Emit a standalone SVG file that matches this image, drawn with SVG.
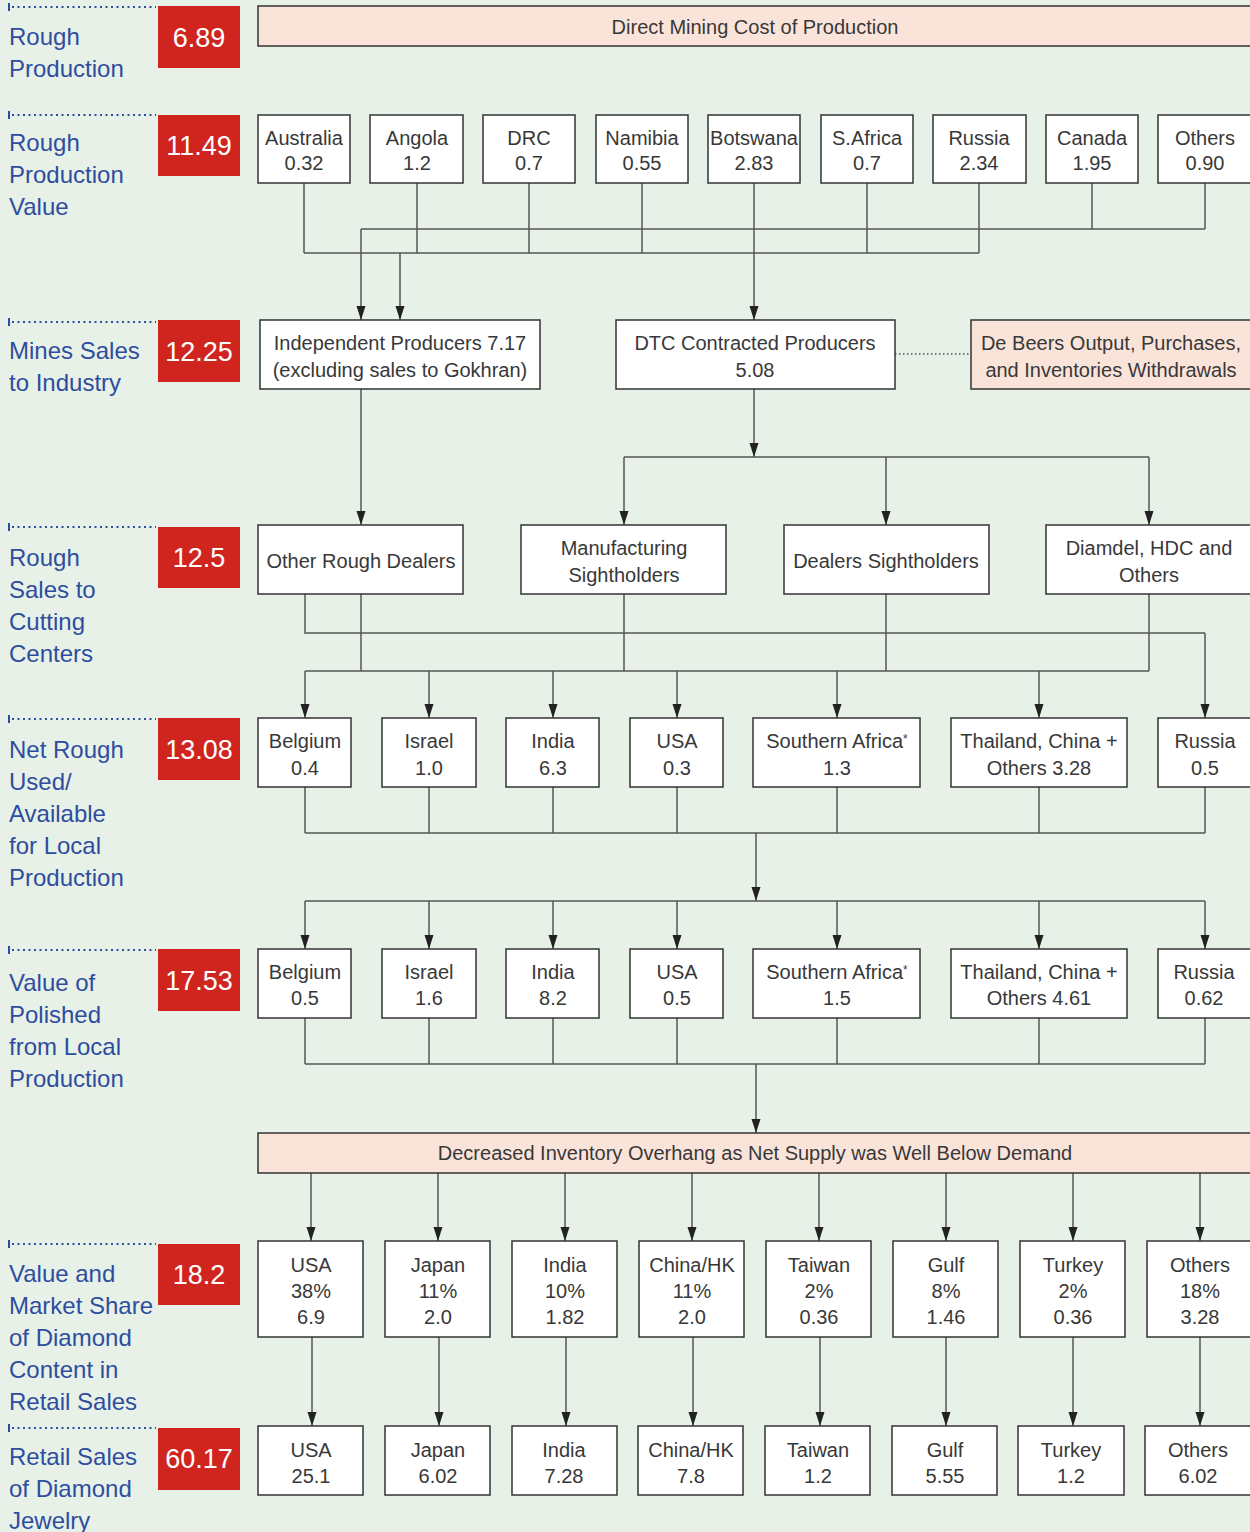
<svg xmlns="http://www.w3.org/2000/svg" width="1250" height="1532" viewBox="0 0 1250 1532">
<defs>
<marker id="ah" markerUnits="userSpaceOnUse" markerWidth="16" markerHeight="12" refX="14" refY="4.5" orient="auto">
<path d="M0,0 L14,4.5 L0,9 z" fill="#222"/>
</marker>
<style>
.lbl{font-family:"Liberation Sans",Arial,sans-serif;font-size:24px;fill:#2f4d9e}
.num{font-family:"Liberation Sans",Arial,sans-serif;font-size:27px;fill:#fff;text-anchor:middle}
.red{fill:#d0251f}
.dot{stroke:#2f4d9e;stroke-width:2;stroke-dasharray:2 3.5;fill:none}
.tick{stroke:#2f4d9e;stroke-width:2}
.box{fill:#fff;stroke:#333;stroke-width:1.5}
.pink{fill:#fae4da;stroke:#333;stroke-width:1.5}
.t{font-family:"Liberation Sans",Arial,sans-serif;font-size:20px;fill:#383838;text-anchor:middle}
.c{stroke:#555;stroke-width:1.5;fill:none}
.a{stroke:#555;stroke-width:1.5;fill:none;marker-end:url(#ah)}
.sm{font-size:12px}
</style>
</defs>
<rect width="1250" height="1532" fill="#e7f1e8"/>

<!-- left labels -->
<g id="row-labels">
<g id="lbl1"><line class="tick" x1="9" y1="3" x2="9" y2="11"/><line class="dot" x1="12" y1="7" x2="156" y2="7"/><rect class="red" x="158" y="6" width="82" height="62"/><text class="num" x="199" y="47">6.89</text><text class="lbl" x="9" y="45">Rough</text><text class="lbl" x="9" y="77">Production</text></g>
<g id="lbl2"><line class="tick" x1="9" y1="111" x2="9" y2="119"/><line class="dot" x1="12" y1="115" x2="156" y2="115"/><rect class="red" x="158" y="115" width="82" height="61"/><text class="num" x="199" y="155">11.49</text><text class="lbl" x="9" y="151">Rough</text><text class="lbl" x="9" y="183">Production</text><text class="lbl" x="9" y="215">Value</text></g>
<g id="lbl3"><line class="tick" x1="9" y1="318" x2="9" y2="326"/><line class="dot" x1="12" y1="322" x2="156" y2="322"/><rect class="red" x="158" y="320" width="82" height="62"/><text class="num" x="199" y="361">12.25</text><text class="lbl" x="9" y="359">Mines Sales</text><text class="lbl" x="9" y="391">to Industry</text></g>
<g id="lbl4"><line class="tick" x1="9" y1="523" x2="9" y2="531"/><line class="dot" x1="12" y1="527" x2="156" y2="527"/><rect class="red" x="158" y="527" width="82" height="61"/><text class="num" x="199" y="567">12.5</text><text class="lbl" x="9" y="566">Rough</text><text class="lbl" x="9" y="598">Sales to</text><text class="lbl" x="9" y="630">Cutting</text><text class="lbl" x="9" y="662">Centers</text></g>
<g id="lbl5"><line class="tick" x1="9" y1="715" x2="9" y2="723"/><line class="dot" x1="12" y1="719" x2="156" y2="719"/><rect class="red" x="158" y="718" width="82" height="62"/><text class="num" x="199" y="759">13.08</text><text class="lbl" x="9" y="758">Net Rough</text><text class="lbl" x="9" y="790">Used/</text><text class="lbl" x="9" y="822">Available</text><text class="lbl" x="9" y="854">for Local</text><text class="lbl" x="9" y="886">Production</text></g>
<g id="lbl6"><line class="tick" x1="9" y1="946" x2="9" y2="954"/><line class="dot" x1="12" y1="950" x2="156" y2="950"/><rect class="red" x="158" y="949" width="82" height="62"/><text class="num" x="199" y="990">17.53</text><text class="lbl" x="9" y="991">Value of</text><text class="lbl" x="9" y="1023">Polished</text><text class="lbl" x="9" y="1055">from Local</text><text class="lbl" x="9" y="1087">Production</text></g>
<g id="lbl7"><line class="tick" x1="9" y1="1240" x2="9" y2="1248"/><line class="dot" x1="12" y1="1244" x2="156" y2="1244"/><rect class="red" x="158" y="1244" width="82" height="61"/><text class="num" x="199" y="1284">18.2</text><text class="lbl" x="9" y="1282">Value and</text><text class="lbl" x="9" y="1314">Market Share</text><text class="lbl" x="9" y="1346">of Diamond</text><text class="lbl" x="9" y="1378">Content in</text><text class="lbl" x="9" y="1410">Retail Sales</text></g>
<g id="lbl8"><line class="tick" x1="9" y1="1424" x2="9" y2="1432"/><line class="dot" x1="12" y1="1428" x2="156" y2="1428"/><rect class="red" x="158" y="1428" width="82" height="62"/><text class="num" x="199" y="1468">60.17</text><text class="lbl" x="9" y="1465">Retail Sales</text><text class="lbl" x="9" y="1497">of Diamond</text><text class="lbl" x="9" y="1529">Jewelry</text></g>
</g>

<!-- connectors -->
<g id="connectors">
<path class="c" d="M304,183 V253 M417,183 V253 M529,183 V253 M642,183 V253 M867,183 V253 M979,183 V253 M304,253 H979"/>
<path class="c" d="M1092,183 V229 M1205,183 V229 M361,229 H1205"/>
<path class="a" d="M361,229 V320"/>
<path class="a" d="M400,253 V320"/>
<path class="a" d="M754,183 V320"/>
<line x1="895" y1="354" x2="971" y2="354" stroke="#555" stroke-width="1.3" stroke-dasharray="1.5 2.5"/>
<path class="a" d="M361,389 V525"/>
<path class="a" d="M754,389 V457"/>
<path class="c" d="M624,457 H1149"/>
<path class="a" d="M624,457 V525"/>
<path class="a" d="M886,457 V525"/>
<path class="a" d="M1149,457 V525"/>
<path class="c" d="M305,594 V633 H1205"/>
<path class="a" d="M1205,633 V718"/>
<path class="c" d="M361,594 V671 M624,594 V671 M886,594 V671 M1149,594 V671 M305,671 H1149"/>
<path class="a" d="M305,671 V718"/>
<path class="a" d="M429,671 V718"/>
<path class="a" d="M553,671 V718"/>
<path class="a" d="M677,671 V718"/>
<path class="a" d="M837,671 V718"/>
<path class="a" d="M1039,671 V718"/>
<path class="c" d="M305,787 V833 M429,787 V833 M553,787 V833 M677,787 V833 M837,787 V833 M1039,787 V833 M1205,787 V833 M305,833 H1205"/>
<path class="a" d="M756,833 V901"/>
<path class="c" d="M305,901 H1205"/>
<path class="a" d="M305,901 V949"/>
<path class="a" d="M429,901 V949"/>
<path class="a" d="M553,901 V949"/>
<path class="a" d="M677,901 V949"/>
<path class="a" d="M837,901 V949"/>
<path class="a" d="M1039,901 V949"/>
<path class="a" d="M1205,901 V949"/>
<path class="c" d="M305,1018 V1064 M429,1018 V1064 M553,1018 V1064 M677,1018 V1064 M837,1018 V1064 M1039,1018 V1064 M1205,1018 V1064 M305,1064 H1205"/>
<path class="a" d="M756,1064 V1133"/>
<path class="a" d="M311,1173 V1241"/>
<path class="a" d="M438,1173 V1241"/>
<path class="a" d="M565,1173 V1241"/>
<path class="a" d="M692,1173 V1241"/>
<path class="a" d="M819,1173 V1241"/>
<path class="a" d="M946,1173 V1241"/>
<path class="a" d="M1073,1173 V1241"/>
<path class="a" d="M1200,1173 V1241"/>
<path class="a" d="M312,1337 V1426"/>
<path class="a" d="M439,1337 V1426"/>
<path class="a" d="M566,1337 V1426"/>
<path class="a" d="M693,1337 V1426"/>
<path class="a" d="M820,1337 V1426"/>
<path class="a" d="M946,1337 V1426"/>
<path class="a" d="M1073,1337 V1426"/>
<path class="a" d="M1200,1337 V1426"/>
</g>

<g id="n-direct"><rect class="pink" x="258" y="6" width="1000" height="40"/><text class="t" x="755" y="34">Direct Mining Cost of Production</text></g>

<g id="n-australia"><rect class="box" x="258" y="115" width="92" height="68"/><text class="t" x="304" y="145">Australia</text><text class="t" x="304" y="170">0.32</text></g>
<g id="n-angola"><rect class="box" x="370" y="115" width="93" height="68"/><text class="t" x="417" y="145">Angola</text><text class="t" x="417" y="170">1.2</text></g>
<g id="n-drc"><rect class="box" x="483" y="115" width="92" height="68"/><text class="t" x="529" y="145">DRC</text><text class="t" x="529" y="170">0.7</text></g>
<g id="n-namibia"><rect class="box" x="596" y="115" width="92" height="68"/><text class="t" x="642" y="145">Namibia</text><text class="t" x="642" y="170">0.55</text></g>
<g id="n-botswana"><rect class="box" x="708" y="115" width="92" height="68"/><text class="t" x="754" y="145">Botswana</text><text class="t" x="754" y="170">2.83</text></g>
<g id="n-safrica"><rect class="box" x="821" y="115" width="92" height="68"/><text class="t" x="867" y="145">S.Africa</text><text class="t" x="867" y="170">0.7</text></g>
<g id="n-russia1"><rect class="box" x="933" y="115" width="93" height="68"/><text class="t" x="979" y="145">Russia</text><text class="t" x="979" y="170">2.34</text></g>
<g id="n-canada"><rect class="box" x="1046" y="115" width="92" height="68"/><text class="t" x="1092" y="145">Canada</text><text class="t" x="1092" y="170">1.95</text></g>
<g id="n-others1"><rect class="box" x="1158" y="115" width="100" height="68"/><text class="t" x="1205" y="145">Others</text><text class="t" x="1205" y="170">0.90</text></g>

<g id="n-independent"><rect class="box" x="260" y="320" width="280" height="69"/><text class="t" x="400" y="350">Independent Producers 7.17</text><text class="t" x="400" y="377">(excluding sales to Gokhran)</text></g>
<g id="n-dtc"><rect class="box" x="616" y="320" width="279" height="69"/><text class="t" x="755" y="350">DTC Contracted Producers</text><text class="t" x="755" y="377">5.08</text></g>
<g id="n-debeers"><rect class="pink" x="971" y="320" width="290" height="69"/><text class="t" x="1111" y="350">De Beers Output, Purchases,</text><text class="t" x="1111" y="377">and Inventories Withdrawals</text></g>

<g id="n-otherrough"><rect class="box" x="258" y="525" width="205" height="69"/><text class="t" x="361" y="568">Other Rough Dealers</text></g>
<g id="n-mansight"><rect class="box" x="521" y="525" width="205" height="69"/><text class="t" x="624" y="555">Manufacturing</text><text class="t" x="624" y="582">Sightholders</text></g>
<g id="n-dealsight"><rect class="box" x="784" y="525" width="205" height="69"/><text class="t" x="886" y="568">Dealers Sightholders</text></g>
<g id="n-diamdel"><rect class="box" x="1046" y="525" width="214" height="69"/><text class="t" x="1149" y="555">Diamdel, HDC and</text><text class="t" x="1149" y="582">Others</text></g>

<g id="n-belgium5"><rect class="box" x="258" y="718" width="93" height="69"/><text class="t" x="305" y="748">Belgium</text><text class="t" x="305" y="775">0.4</text></g>
<g id="n-israel5"><rect class="box" x="382" y="718" width="94" height="69"/><text class="t" x="429" y="748">Israel</text><text class="t" x="429" y="775">1.0</text></g>
<g id="n-india5"><rect class="box" x="506" y="718" width="93" height="69"/><text class="t" x="553" y="748">India</text><text class="t" x="553" y="775">6.3</text></g>
<g id="n-usa5"><rect class="box" x="630" y="718" width="93" height="69"/><text class="t" x="677" y="748">USA</text><text class="t" x="677" y="775">0.3</text></g>
<g id="n-safr5"><rect class="box" x="753" y="718" width="167" height="69"/><text class="t" x="837" y="748">Southern Africa<tspan class="sm" dy="-5">*</tspan></text><text class="t" x="837" y="775">1.3</text></g>
<g id="n-thai5"><rect class="box" x="951" y="718" width="176" height="69"/><text class="t" x="1039" y="748">Thailand, China +</text><text class="t" x="1039" y="775">Others 3.28</text></g>
<g id="n-russia5"><rect class="box" x="1158" y="718" width="100" height="69"/><text class="t" x="1205" y="748">Russia</text><text class="t" x="1205" y="775">0.5</text></g>

<g id="n-belgium6"><rect class="box" x="258" y="949" width="93" height="69"/><text class="t" x="305" y="979">Belgium</text><text class="t" x="305" y="1005">0.5</text></g>
<g id="n-israel6"><rect class="box" x="382" y="949" width="94" height="69"/><text class="t" x="429" y="979">Israel</text><text class="t" x="429" y="1005">1.6</text></g>
<g id="n-india6"><rect class="box" x="506" y="949" width="93" height="69"/><text class="t" x="553" y="979">India</text><text class="t" x="553" y="1005">8.2</text></g>
<g id="n-usa6"><rect class="box" x="630" y="949" width="93" height="69"/><text class="t" x="677" y="979">USA</text><text class="t" x="677" y="1005">0.5</text></g>
<g id="n-safr6"><rect class="box" x="753" y="949" width="167" height="69"/><text class="t" x="837" y="979">Southern Africa<tspan class="sm" dy="-5">*</tspan></text><text class="t" x="837" y="1005">1.5</text></g>
<g id="n-thai6"><rect class="box" x="951" y="949" width="176" height="69"/><text class="t" x="1039" y="979">Thailand, China +</text><text class="t" x="1039" y="1005">Others 4.61</text></g>
<g id="n-russia6"><rect class="box" x="1158" y="949" width="100" height="69"/><text class="t" x="1204" y="979">Russia</text><text class="t" x="1204" y="1005">0.62</text></g>

<g id="n-inventory"><rect class="pink" x="258" y="1133" width="1000" height="40"/><text class="t" x="755" y="1160">Decreased Inventory Overhang as Net Supply was Well Below Demand</text></g>

<g id="n-usa7"><rect class="box" x="258" y="1241" width="105" height="96"/><text class="t" x="311" y="1272">USA</text><text class="t" x="311" y="1298">38%</text><text class="t" x="311" y="1324">6.9</text></g>
<g id="n-japan7"><rect class="box" x="385" y="1241" width="105" height="96"/><text class="t" x="438" y="1272">Japan</text><text class="t" x="438" y="1298">11%</text><text class="t" x="438" y="1324">2.0</text></g>
<g id="n-india7"><rect class="box" x="512" y="1241" width="105" height="96"/><text class="t" x="565" y="1272">India</text><text class="t" x="565" y="1298">10%</text><text class="t" x="565" y="1324">1.82</text></g>
<g id="n-china7"><rect class="box" x="639" y="1241" width="105" height="96"/><text class="t" x="692" y="1272">China/HK</text><text class="t" x="692" y="1298">11%</text><text class="t" x="692" y="1324">2.0</text></g>
<g id="n-taiwan7"><rect class="box" x="766" y="1241" width="105" height="96"/><text class="t" x="819" y="1272">Taiwan</text><text class="t" x="819" y="1298">2%</text><text class="t" x="819" y="1324">0.36</text></g>
<g id="n-gulf7"><rect class="box" x="893" y="1241" width="105" height="96"/><text class="t" x="946" y="1272">Gulf</text><text class="t" x="946" y="1298">8%</text><text class="t" x="946" y="1324">1.46</text></g>
<g id="n-turkey7"><rect class="box" x="1020" y="1241" width="105" height="96"/><text class="t" x="1073" y="1272">Turkey</text><text class="t" x="1073" y="1298">2%</text><text class="t" x="1073" y="1324">0.36</text></g>
<g id="n-others7"><rect class="box" x="1147" y="1241" width="110" height="96"/><text class="t" x="1200" y="1272">Others</text><text class="t" x="1200" y="1298">18%</text><text class="t" x="1200" y="1324">3.28</text></g>

<g id="n-usa8"><rect class="box" x="258" y="1426" width="105" height="69"/><text class="t" x="311" y="1457">USA</text><text class="t" x="311" y="1483">25.1</text></g>
<g id="n-japan8"><rect class="box" x="385" y="1426" width="105" height="69"/><text class="t" x="438" y="1457">Japan</text><text class="t" x="438" y="1483">6.02</text></g>
<g id="n-india8"><rect class="box" x="512" y="1426" width="105" height="69"/><text class="t" x="564" y="1457">India</text><text class="t" x="564" y="1483">7.28</text></g>
<g id="n-china8"><rect class="box" x="638" y="1426" width="105" height="69"/><text class="t" x="691" y="1457">China/HK</text><text class="t" x="691" y="1483">7.8</text></g>
<g id="n-taiwan8"><rect class="box" x="765" y="1426" width="105" height="69"/><text class="t" x="818" y="1457">Taiwan</text><text class="t" x="818" y="1483">1.2</text></g>
<g id="n-gulf8"><rect class="box" x="892" y="1426" width="105" height="69"/><text class="t" x="945" y="1457">Gulf</text><text class="t" x="945" y="1483">5.55</text></g>
<g id="n-turkey8"><rect class="box" x="1018" y="1426" width="106" height="69"/><text class="t" x="1071" y="1457">Turkey</text><text class="t" x="1071" y="1483">1.2</text></g>
<g id="n-others8"><rect class="box" x="1145" y="1426" width="112" height="69"/><text class="t" x="1198" y="1457">Others</text><text class="t" x="1198" y="1483">6.02</text></g>
</svg>
